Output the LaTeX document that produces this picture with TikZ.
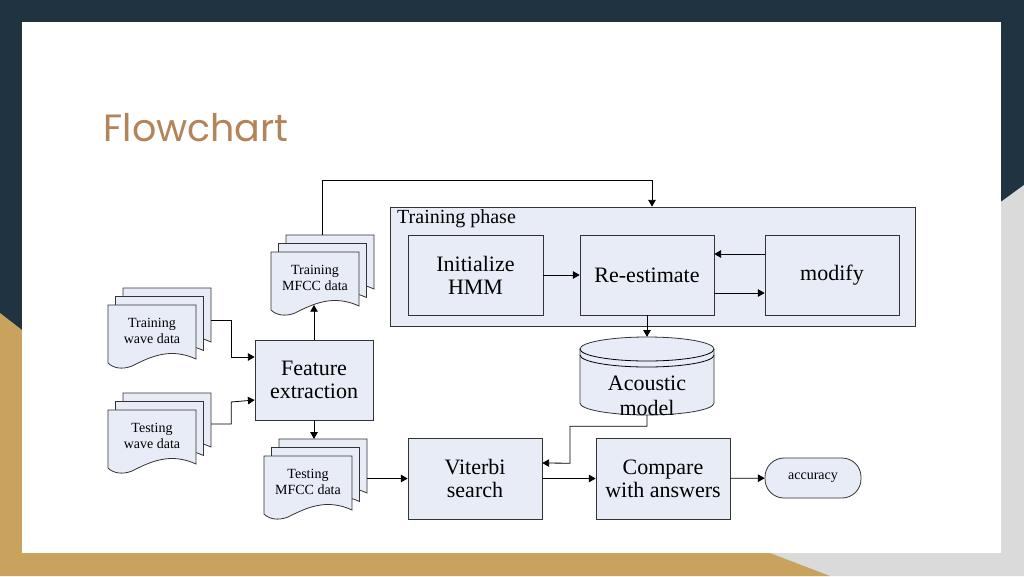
\documentclass[tikz,border=0pt]{standalone}
\usepackage{fontspec}
\setmainfont{Liberation Serif}
\newfontfamily\titlefont{Poppins}
\usetikzlibrary{positioning, calc, shapes.geometric, arrows}

\definecolor{navy}{HTML}{1F3440}
\definecolor{gold}{HTML}{C9A35E}
\definecolor{slate}{HTML}{DADADA}
\definecolor{boxfill}{HTML}{E8ECF7}
\definecolor{titlebrown}{HTML}{B3835A}

% one sheet of a document stack, drawn at the current shift
\newcommand{\docsheet}{\filldraw[sheet] (0,0) -- (88,0) -- (88,54) .. controls (62,42) and (42,52) .. (24,61) .. controls (14,65) and (5,63) .. (0,58) -- cycle;}
% stack of three sheets: name, x, y (front top-left), text
\newcommand{\docstack}[4]{
    \node (#1) [inner sep=0, minimum width=103pt, minimum height=79pt] at (#2+51.5,#3+22.5) {};
    \foreach \dx/\dy in {15/-17, 7.5/-8.5, 0/0} {
        \begin{scope}[shift={(#2+\dx,#3+\dy)}]\docsheet\end{scope}
    }
    \node [doctext] at (#2+44,#3+26) {#4};
}

\begin{document}
\begin{tikzpicture}[x=1pt, y=-1pt,
    sheet/.style={draw=black!80, fill=boxfill, line width=0.8pt},
    block/.style={rectangle, draw=black!80, fill=boxfill, line width=0.8pt, align=center, font=\fontsize{22}{23}\selectfont, inner sep=0},
    doctext/.style={align=center, font=\fontsize{14}{16}\selectfont},
    arrow/.style={line width=0.8pt, ->, >=triangle 60}]
    
    % slide background
    \useasboundingbox (0,0) rectangle (1024,576);
    \fill[navy] (0,0) rectangle (1024,576);
    \fill[slate] (760,576) -- (1024,576) -- (1024,185) -- (880,290) -- cycle;
    \fill[gold] (0,313) -- (0,576) -- (830,576) -- (770,553) -- (22,330) -- cycle;
    \fill[white] (22,22) rectangle (1001,553);
    \node (title) [anchor=west, text=titlebrown, font=\titlefont\fontsize{38}{40}\selectfont] at (100,128) {Flowchart};
    
    % training phase
    \node (phase) [block, minimum width=525pt, minimum height=119pt] at (652.5,266.5) {};
    \node [anchor=north west, font=\fontsize{20}{22}\selectfont, inner sep=0] at (397,209) {Training phase};
    \node (init) [block, minimum width=135pt, minimum height=80pt] at (475.5,275) {Initialize\\HMM};
    \node (reest) [block, minimum width=134pt, minimum height=80pt] at (647,275) {Re-estimate};
    \node (modify) [block, minimum width=134pt, minimum height=80pt] at (832,275) {modify};
    
    % acoustic model
    \node (acoustic) [inner sep=0, minimum width=134pt, minimum height=78pt] at (647,376) {};
    \filldraw[sheet] (580,349) -- (580,403) arc[start angle=180, end angle=0, x radius=67, y radius=12] -- (714,349) arc[start angle=0, end angle=-180, x radius=67, y radius=12] -- cycle;
    \draw[line width=0.8pt] (580,349) arc[start angle=180, end angle=0, x radius=67, y radius=12];
    \draw[line width=0.8pt] (580,355) arc[start angle=180, end angle=0, x radius=67, y radius=12];
    \node [align=center, font=\fontsize{22}{25}\selectfont] at (647,396) {Acoustic\\model};
    
    % documents
    \docstack{trwave}{108}{305}{Training\\wave data}
    \docstack{tewave}{108}{410}{Testing\\wave data}
    \docstack{trmfcc}{271}{252}{Training\\MFCC data}
    \docstack{temfcc}{264}{456}{Testing\\MFCC data}
    
    \node (feature) [block, minimum width=118pt, minimum height=80pt] at (314,380) {Feature\\extraction};
    \node (viterbi) [block, minimum width=134pt, minimum height=81pt] at (475,478.5) {Viterbi\\search};
    \node (compare) [block, minimum width=134pt, minimum height=81pt] at (663,478.5) {Compare\\with answers};
    \node (accuracy) [block, rounded corners=19pt, minimum width=96pt, minimum height=40pt, font=\fontsize{14}{16}\selectfont] at (813,478) {accuracy};
    
    \coordinate (mfcctop) at (652,180);
    \coordinate (mfccin) at (314,305);
    
    \draw [arrow] (init) -- (reest);
    \draw [arrow] ($(modify.west)+(0,-21)$) -- ($(reest.east)+(0,-21)$);
    \draw [arrow] ($(reest.east)+(0,18)$) -- ($(modify.west)+(0,18)$);
    \draw [arrow] (reest) -- (acoustic.north);
    \draw [arrow] ($(trwave.east)+(0,-7.5)$) -| ++(20,37) -- ($(feature.west)+(0,-23)$);
    \draw [arrow] ($(tewave.east)+(0,-8.5)$) -| ++(20,-22) -- ($(feature.west)+(0,20)$);
    \draw [arrow] (feature) -- (mfccin);
    \draw [arrow] (feature) -- (temfcc.north -| feature);
    \draw [arrow] (trmfcc.north) |- (mfcctop) -- (phase.north -| mfcctop);
    \draw [arrow] (temfcc.east) -- (viterbi);
    \draw [arrow] (acoustic.south) -- ++(0,11) -| ++(-77,37) -- ($(viterbi.east)+(0,-15.5)$);
    \draw [arrow] (viterbi) -- (compare);
    \draw [arrow] (compare) -- (accuracy);
\end{tikzpicture}
\end{document}
